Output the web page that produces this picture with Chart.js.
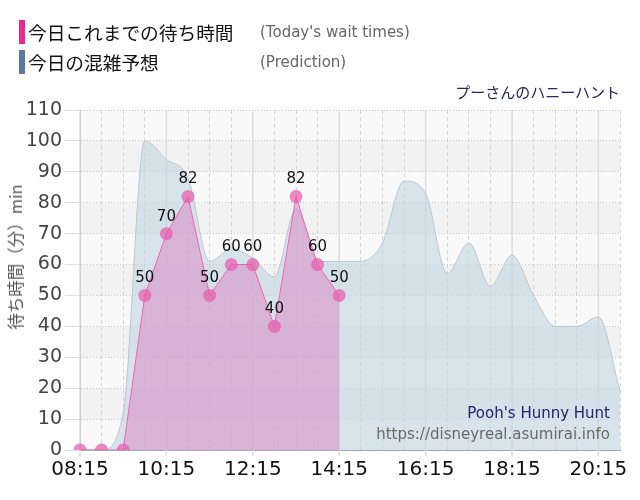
<!DOCTYPE html>
<html>
<head>
<meta charset="utf-8">
<script src="https://cdn.jsdelivr.net/npm/chart.js@4.4.1/dist/chart.umd.min.js"></script>
<style>
  html, body { margin: 0; padding: 0; background: #fff; }
  #wrap { position: relative; width: 640px; height: 500px; overflow: hidden; }
  canvas { position: absolute; left: 0; top: 0; }
  .legend-row { position: absolute; left: 19px; height: 24px; }
  .legend-row .bar { position: absolute; left: 0; top: 0; width: 6px; height: 24px; }
  .legend-row .ja { position: absolute; left: 9px; top: 0; line-height: 24px; white-space: nowrap;
    font-family: "Noto Sans CJK JP", sans-serif; font-size: 18.7px; color: #111; }
  .legend-row .en { position: absolute; left: 241px; top: 0; line-height: 24px; white-space: nowrap;
    font-family: "DejaVu Sans", sans-serif; font-size: 15px; color: #666; }
  #ride { position: absolute; right: 20px; top: 80px; line-height: 24px;
    font-family: "Noto Sans CJK JP", sans-serif; font-size: 15px; color: #23236e; }
  .mark { position: absolute; right: 30px; white-space: nowrap; font-family: "DejaVu Sans", sans-serif; font-size: 15px; }
  #ytitle { position: absolute; left: 15px; top: 257px; white-space: nowrap;
    transform: translate(-50%, -50%) rotate(-90deg);
    font-family: "Noto Sans CJK JP", sans-serif; font-size: 16.5px; color: #555; line-height: 20px; }
</style>
</head>
<body>
<div id="wrap">
  <canvas id="waitChart" width="640" height="500"></canvas>
  <div class="legend-row" style="top:20px">
    <div class="bar" style="background:#ef2792"></div>
    <div class="ja">今日これまでの待ち時間</div>
    <div class="en">(Today's wait times)</div>
  </div>
  <div class="legend-row" style="top:50px">
    <div class="bar" style="background:#5b77a5"></div>
    <div class="ja">今日の混雑予想</div>
    <div class="en">(Prediction)</div>
  </div>
  <div id="ride">プーさんのハニーハント</div>
  <div id="ytitle">待ち時間（分）min</div>
  <div class="mark" style="top:404px;color:#23236e">Pooh's Hunny Hunt</div>
  <div class="mark" style="top:425px;color:#6a6a6a">https://disneyreal.asumirai.info</div>
</div>
<script>
// time slots, every 30 minutes
const times = ['08:15','08:45','09:15','09:45','10:15','10:45','11:15','11:45','12:15','12:45',
               '13:15','13:45','14:15','14:45','15:15','15:45','16:15','16:45','17:15','17:45',
               '18:15','18:45','19:15','19:45','20:15','20:45'];
const xTickLabels = ['08:15','10:15','12:15','14:15','16:15','18:15','20:15'];
const yTicks = [0,10,20,30,40,50,60,70,80,90,100,110];

// today's actual wait times (minutes), up to 14:15
const waitTimes = [0,0,0,50,70,82,50,60,60,40,82,60,50];

// predicted wait times (minutes)
const prediction = [0,0,12,100,94,88,61,65,62,56,78,61,61,61,67,87,83,57,67,53,63,50,40,40,43,19];

/* -------------------- PLUGINS -------------------- */

// alternating grey bands behind the plot
const bandPlugin = {
    id: 'bands',
    beforeDraw(chart) {
        const { ctx, chartArea, scales } = chart;
        const y = scales.y;
        ctx.save();
        for (let i = 0; i < yTicks.length - 1; i++) {
            const top = y.getPixelForValue(yTicks[i + 1]);
            const bottom = y.getPixelForValue(yTicks[i]);
            ctx.fillStyle = i % 2 ? '#f2f2f2' : '#f9f9f9';
            ctx.fillRect(chartArea.left, top, chartArea.right - chartArea.left, bottom - top);
        }
        ctx.restore();
    },
    // solid lines on the labelled hours
    beforeDatasetsDraw(chart) {
        const { ctx, chartArea, scales } = chart;
        ctx.save();
        ctx.strokeStyle = '#dddddd';
        ctx.lineWidth = 1.5;
        xTickLabels.forEach(t => {
            const px = scales.x.getPixelForValue(times.indexOf(t));
            ctx.beginPath();
            ctx.moveTo(px, chartArea.top);
            ctx.lineTo(px, chartArea.bottom + 6);
            ctx.stroke();
        });
        ctx.restore();
    }
};

// value labels over today's points
const valueLabelPlugin = {
    id: 'valueLabels',
    afterDatasetsDraw(chart) {
        const { ctx } = chart;
        const meta = chart.getDatasetMeta(0);
        ctx.save();
        ctx.font = '15px "DejaVu Sans", sans-serif';
        ctx.fillStyle = '#111';
        ctx.textAlign = 'center';
        ctx.textBaseline = 'middle';
        meta.data.forEach((pt, i) => {
            const v = waitTimes[i];
            if (!v) return;
            ctx.fillText(String(v), pt.x, pt.y - 17);
        });
        ctx.restore();
    }
};

/* -------------------- CHART -------------------- */

new Chart(document.getElementById('waitChart'), {
    type: 'line',
    data: {
        labels: times,
        datasets: [{
            label: '今日これまでの待ち時間',
            data: waitTimes,
            order: 0,
            borderColor: '#f063b3',
            borderWidth: 1,
            backgroundColor: 'rgba(218,140,198,0.55)',
            fill: 'origin',
            tension: 0,
            pointRadius: 6.5,
            pointHoverRadius: 6.5,
            pointBackgroundColor: 'rgba(232,92,172,0.72)',
            pointBorderWidth: 0
        }, {
            label: '今日の混雑予想',
            data: prediction,
            order: 1,
            borderColor: '#b9c7d3',
            borderWidth: 1,
            backgroundColor: 'rgba(196,214,228,0.62)',
            fill: 'origin',
            cubicInterpolationMode: 'monotone',
            pointRadius: 0
        }]
    },
    options: {
        responsive: false,
        animation: false,
        layout: { padding: { top: 110, right: 20, left: 0, bottom: 0 } },
        plugins: { legend: { display: false }, tooltip: { enabled: false } },
        scales: {
            x: {
                offset: false,
                grid: { color: '#d6d6d6', lineWidth: 1, drawTicks: false },
                border: { color: '#aaaaaa', dash: [4, 3] },
                ticks: {
                    autoSkip: false,
                    maxRotation: 0,
                    padding: 8,
                    color: '#111',
                    font: { family: '"DejaVu Sans", sans-serif', size: 20 },
                    callback: (v, i) => xTickLabels.includes(times[i]) ? times[i] : ''
                },
                afterFit: s => { s.height = 50; }
            },
            y: {
                min: 0,
                max: 110,
                grid: { color: '#c8c8c8', tickLength: 15, tickColor: '#dddddd' },
                border: { color: '#aaaaaa', dash: [1, 2] },
                ticks: {
                    stepSize: 10,
                    padding: 3,
                    color: '#444',
                    font: { family: '"DejaVu Sans", sans-serif', size: 19 }
                },
                afterFit: s => { s.width = 80; }
            }
        }
    },
    plugins: [bandPlugin, valueLabelPlugin]
});
</script>
</body>
</html>
